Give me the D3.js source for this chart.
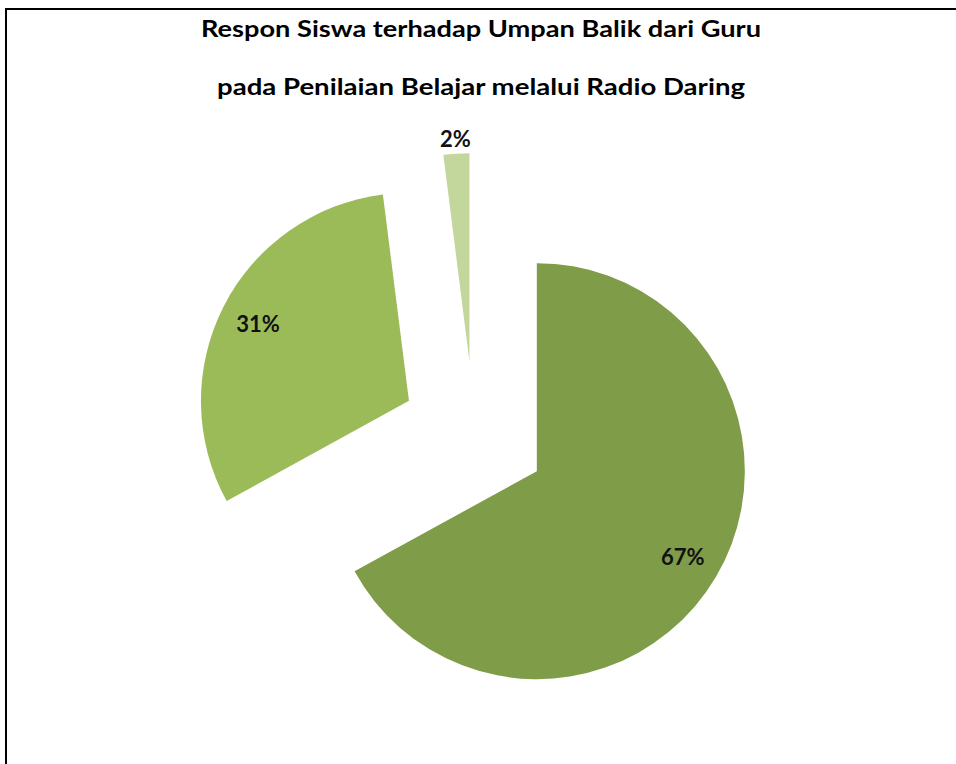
<!DOCTYPE html>
<html>
<head>
<meta charset="utf-8">
<script src="https://cdn.jsdelivr.net/npm/d3@7"></script>
<style>
  body { margin: 0; background: white; }
  svg { display: block; }
</style>
</head>
<body>
<svg id="chart"></svg>
<script>
// Data
var categories = ["Ya", "Kadang-kadang", "Tidak"]
var values = [67, 31, 2]
var titleLines = ["Respon Siswa terhadap Umpan Balik dari Guru",
                  "pada Penilaian Belajar melalui Radio Daring"]

var dimensions = {
    width: 956,
    height: 764,
    radius: 208,
    explode: 73,
    center: { x: 474, y: 434 }
}

var colors = ["#7f9c48", "#9bbb59", "#c3d69b"]

var svg = d3.select("#chart")
            .attr("width", dimensions.width)
            .attr("height", dimensions.height)

// Frame round the chart (runs off the right and bottom of the picture)
svg.append("rect")
    .attr("x", 6)
    .attr("y", 9)
    .attr("width", dimensions.width + 20)
    .attr("height", dimensions.height + 20)
    .attr("fill", "none")
    .attr("stroke", "black")
    .attr("stroke-width", 2)

// Title, two lines
var titleLayout = [
    { y: 37, len: 560 },
    { y: 95, len: 528 }
]
titleLines.forEach((line, i) => {
    svg.append("text")
        .attr("x", 481)
        .attr("y", titleLayout[i].y)
        .attr("textLength", titleLayout[i].len)
        .attr("lengthAdjust", "spacingAndGlyphs")
        .text(line)
        .style("font-family", "Lato, 'Open Sans', sans-serif")
        .style("font-weight", "bold")
        .style("font-size", "22px")
        .style("text-anchor", "middle")
        .style("fill", "black")
})

var pie = d3.pie()
            .sort(null)
            .value(d => d.value)
            .startAngle(0)
            .endAngle(2 * Math.PI)

var arc = d3.arc()
            .innerRadius(0)
            .outerRadius(dimensions.radius)

var table = categories.map((c, i) => ({ name: c, value: values[i] }))
var total = d3.sum(values)
var slices = pie(table)

var g = svg.append("g")
            .attr("transform", `translate(${dimensions.center.x},${dimensions.center.y})`)

// Every slice is pulled out along its middle angle
var offset = d => {
    var mid = (d.startAngle + d.endAngle) / 2
    return [Math.sin(mid) * dimensions.explode, -Math.cos(mid) * dimensions.explode]
}

g.selectAll("path.slice")
    .data(slices)
    .enter()
    .append("path")
    .attr("class", "slice")
    .attr("d", arc)
    .attr("fill", (d, i) => colors[i])
    .attr("transform", d => `translate(${offset(d)})`)

// Percent labels: inside for big slices, just outside for the tiny one
var labelPos = d => {
    var mid = (d.startAngle + d.endAngle) / 2
    var k = d.data.value / total > 0.05 ? 0.815 : 1.07
    var o = offset(d)
    return [o[0] + Math.sin(mid) * dimensions.radius * k,
            o[1] - Math.cos(mid) * dimensions.radius * k]
}

g.selectAll("text.label")
    .data(slices)
    .enter()
    .append("text")
    .attr("class", "label")
    .attr("x", d => labelPos(d)[0])
    .attr("y", d => labelPos(d)[1])
    .attr("dy", "0.36em")
    .text(d => Math.round(d.data.value / total * 100) + "%")
    .style("font-family", "Lato, 'Open Sans', sans-serif")
    .style("font-weight", "bold")
    .style("font-size", "22px")
    .style("text-anchor", "middle")
    .style("fill", "#111")
</script>
</body>
</html>
